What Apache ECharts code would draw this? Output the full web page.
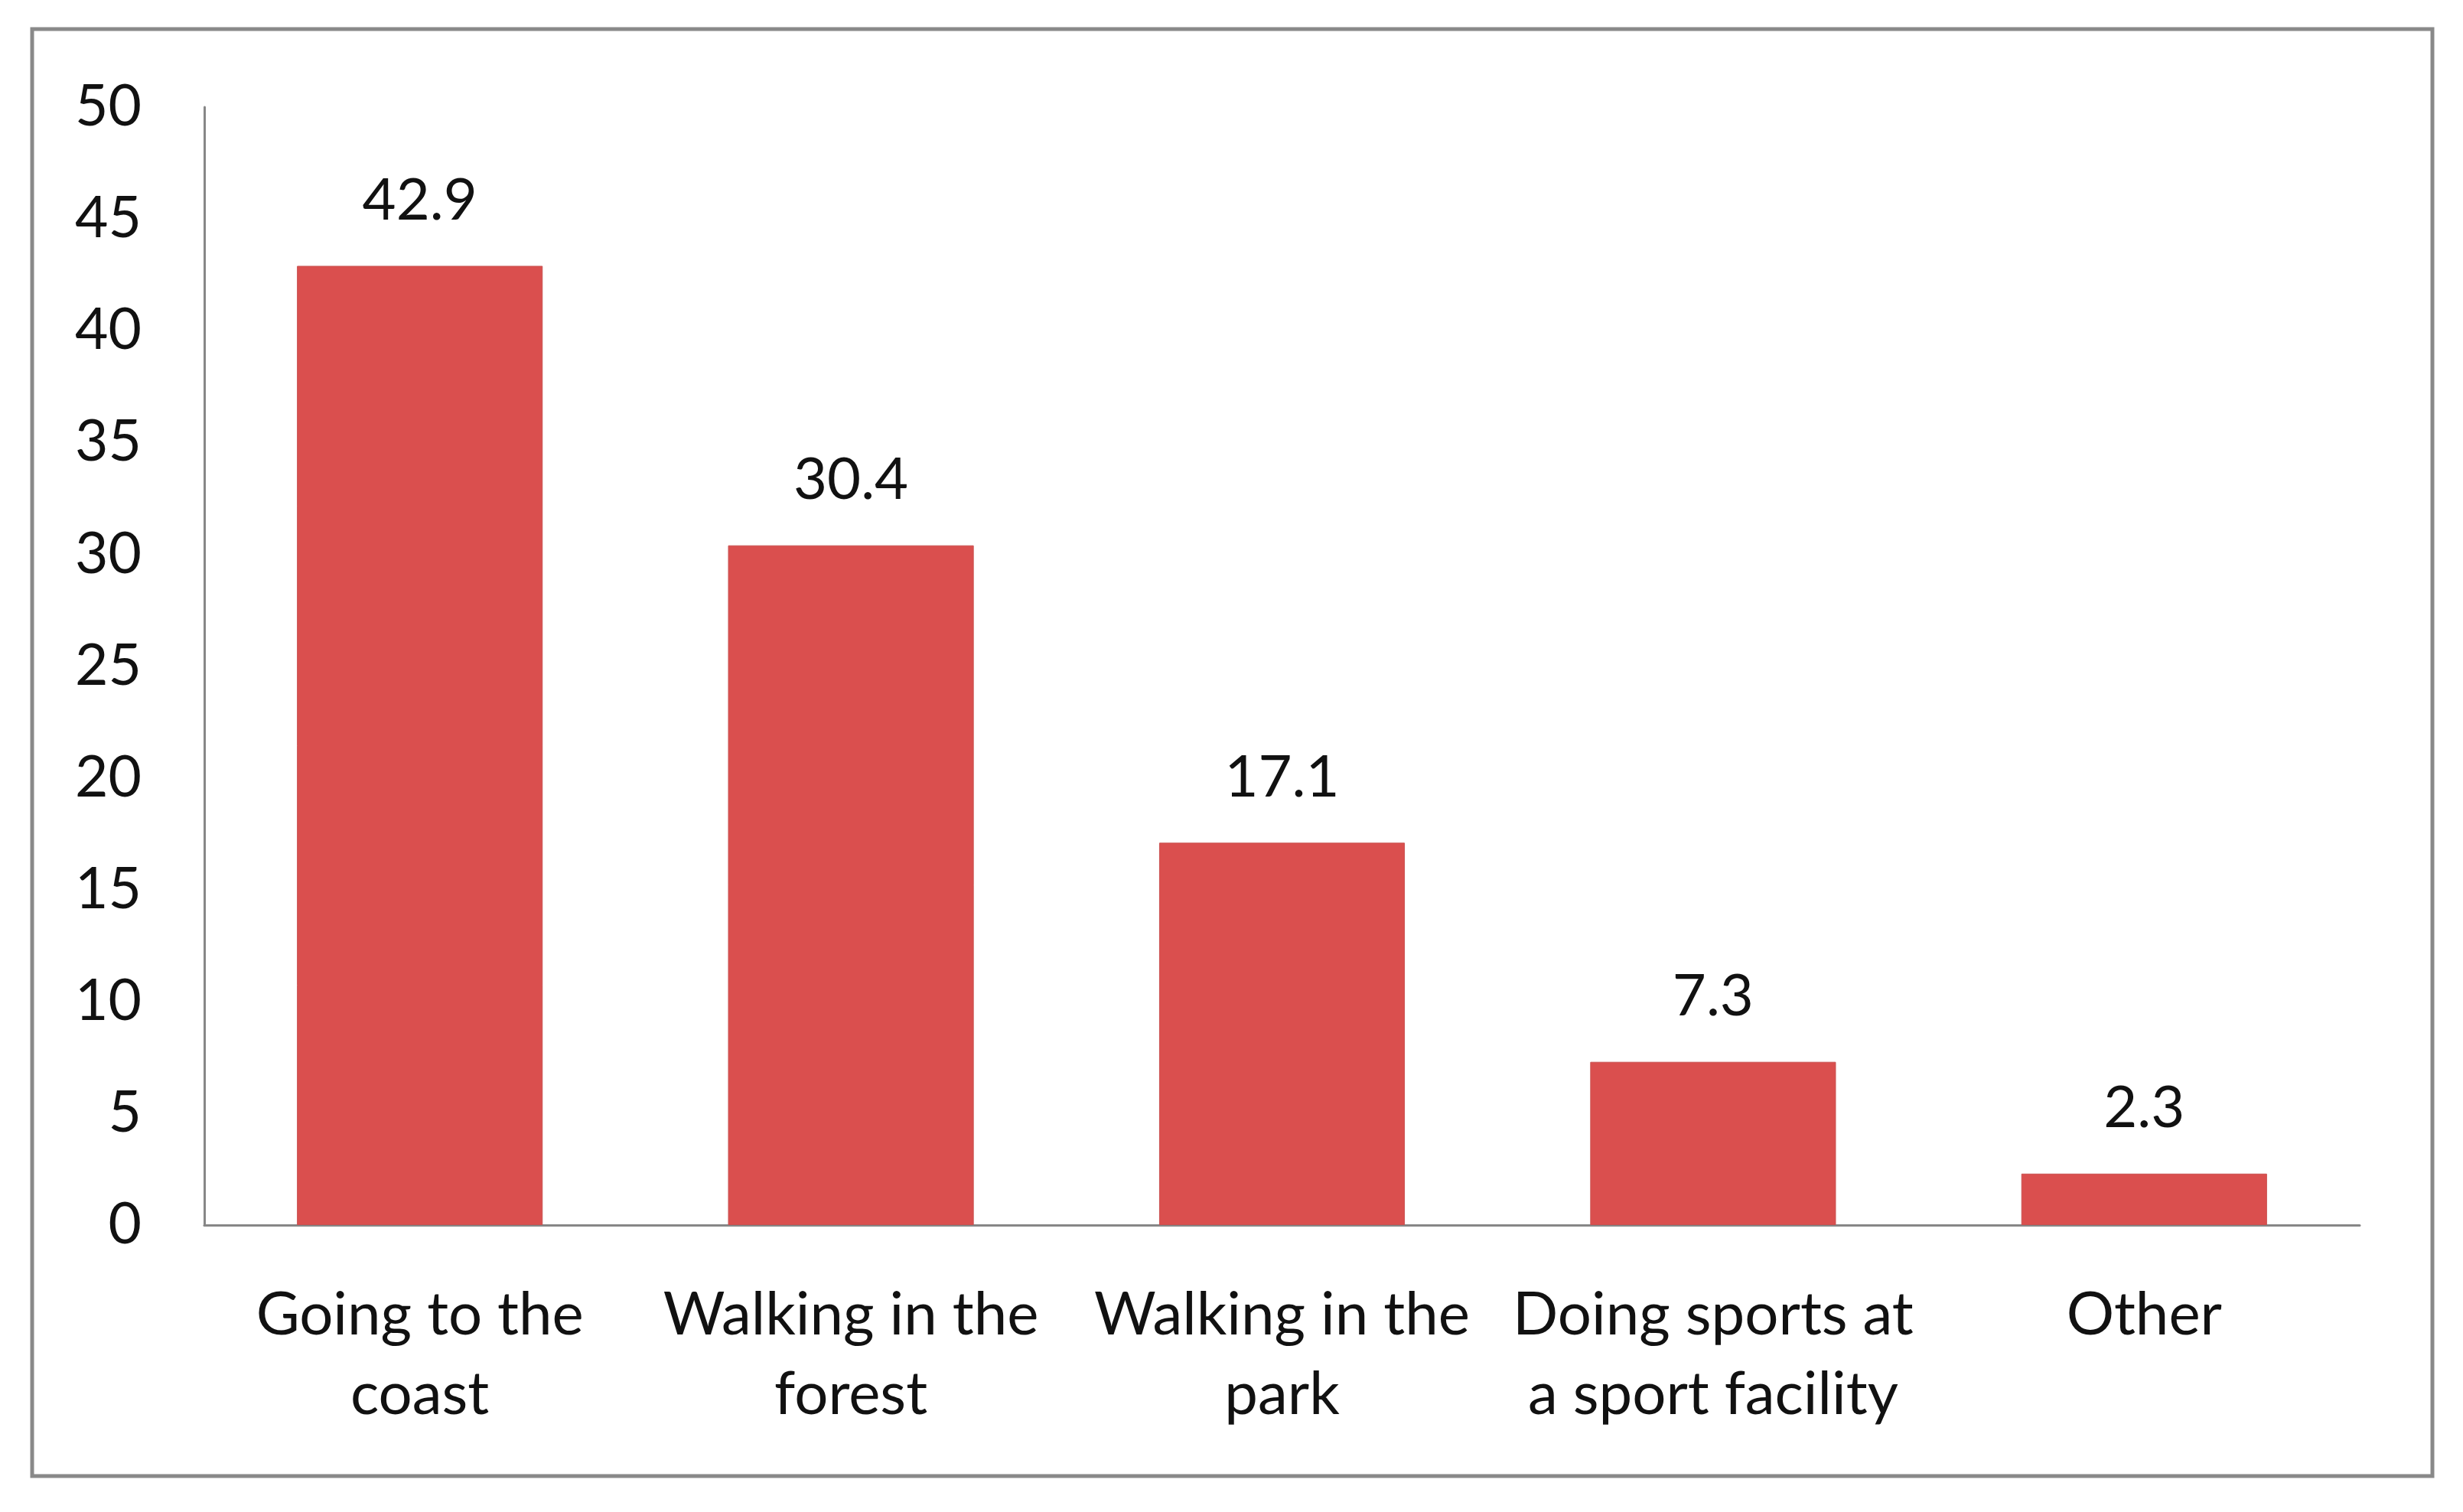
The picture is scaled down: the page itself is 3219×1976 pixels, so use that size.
<!DOCTYPE html>
<html lang="en">
<head>
  <meta charset="UTF-8">
  <title>Activities</title>
  <style>
    html, body {
      padding: 0;
      margin: 0;
      background: #fff;
    }
    #myChart {
      width: 3219px;
      height: 1976px;
    }
  </style>
</head>
<body>
  <div id="myChart"></div>
  <script src="https://cdn.jsdelivr.net/npm/echarts@6/dist/echarts.min.js"></script>
  <script>
    const categories = [
      'Going to the\ncoast',
      'Walking in the\nforest',
      'Walking in the\npark',
      'Doing sports at\na sport facility',
      'Other'
    ];
    const values = [42.9, 30.4, 17.1, 7.3, 2.3];
    const yTicks = { min: 0, max: 50, interval: 5 };

    const myChart = echarts.init(document.getElementById('myChart'));
    const font = 'Lato, "Open Sans", sans-serif';
    const option = {
      backgroundColor: '#fff',
      animation: false,
      // outer frame
      graphic: [{
        type: 'rect',
        shape: { x: 42, y: 38, width: 3137, height: 1891 },
        style: { fill: 'none', stroke: '#898989', lineWidth: 5 }
      }],
      grid: {
        left: 267,
        right: 135,
        top: 140,
        bottom: 375
      },
      xAxis: {
        type: 'category',
        data: categories,
        axisLine: { lineStyle: { color: '#878787', width: 3 } },
        axisTick: { show: false },
        axisLabel: {
          color: '#111',
          fontFamily: font,
          fontSize: 78,
          lineHeight: 104,
          margin: 66,
          interval: 0
        }
      },
      yAxis: {
        type: 'value',
        min: yTicks.min,
        max: yTicks.max,
        interval: yTicks.interval,
        axisLine: { show: true, lineStyle: { color: '#878787', width: 3 } },
        axisTick: { show: false },
        splitLine: { show: false },
        axisLabel: {
          color: '#111',
          fontFamily: font,
          fontSize: 75,
          margin: 82
        }
      },
      series: [{
        type: 'bar',
        data: values,
        barWidth: '57%',
        itemStyle: {
          color: '#da4f4e',
          borderColor: '#c95150',
          borderWidth: 1
        },
        label: {
          show: true,
          position: 'top',
          distance: 47,
          color: '#111',
          fontFamily: font,
          fontSize: 76
        }
      }]
    };
    myChart.setOption(option);
  </script>
</body>
</html>
